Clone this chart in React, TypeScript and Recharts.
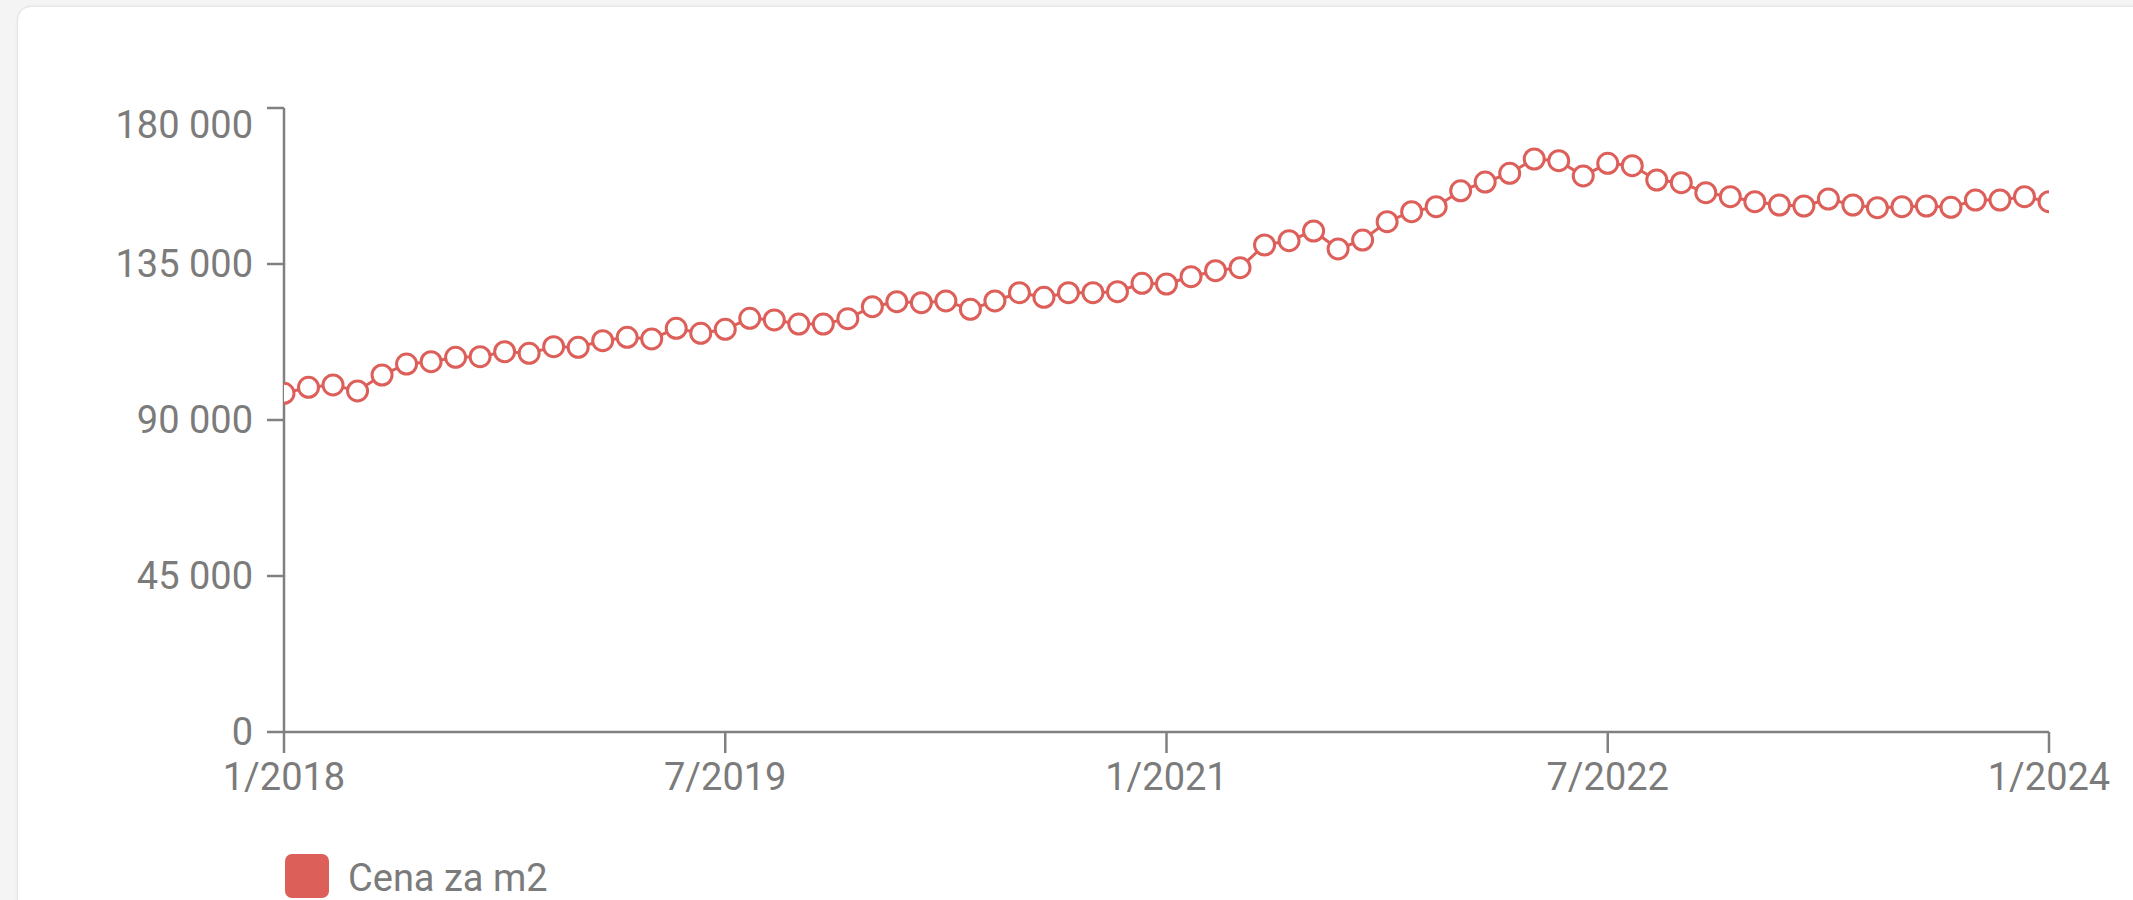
import React from "react";
import { LineChart, Line, XAxis, YAxis, Legend } from "recharts";

const prices: number[] = [
  97700, 99430, 100100, 98370, 102980, 106150, 106820, 108080, 108270, 109700,
  109230, 111150, 110970, 112870, 113850, 113370, 116450, 115010, 116160, 119340,
  118850, 117690, 117690, 119240, 122680, 124130, 123840, 124330, 121930, 124330,
  126730, 125390, 126730, 126730, 127010, 129430, 129230, 131340, 133070, 133940,
  140480, 141720, 144520, 139330, 141920, 147200, 150090, 151530, 156100, 158650,
  161160, 165290, 164800, 160400, 164040, 163360, 159230, 158460, 155570, 154420,
  152980, 152020, 151730, 153750, 152020, 151250, 151540, 151730, 151350, 153460,
  153460, 154420, 152980,
];

const xTickValues = [0, 18, 36, 54, 72];
const xTickLabels = ["1/2018", "7/2019", "1/2021", "7/2022", "1/2024"];
const yTicks = [0, 45000, 90000, 135000, 180000];
const seriesName = "Cena za m2";

const data = prices.map((v, i) => ({ idx: i, value: v }));

const RED = "#dd5f5a";
const GRAY = "#808080";
const TEXT = "#7b7b7b";
const FONT = "Roboto, 'Noto Sans', sans-serif";

const fmt = (v: number) => String(v).replace(/\B(?=(\d{3})+(?!\d))/g, " ");

const YTick = (props: any) => {
  const { x, y, payload } = props;
  const shift = payload.value === 180000 ? 17 : 0;
  return (
    <text
      x={x}
      y={y + shift}
      dy="0.355em"
      textAnchor="end"
      fill={TEXT}
      fontSize={38}
      fontFamily={FONT}
    >
      {fmt(payload.value)}
    </text>
  );
};

const LegendContent = () => (
  <div
    style={{
      height: 50,
      display: "flex",
      alignItems: "flex-start",
      fontFamily: FONT,
    }}
  >
    <div
      style={{
        width: 44,
        height: 44,
        marginTop: 4,
        borderRadius: 7,
        background: RED,
      }}
    />
    <div
      style={{
        marginLeft: 19,
        fontSize: 38,
        lineHeight: "44px",
        color: TEXT,
        marginTop: 6,
      }}
    >
      {seriesName}
    </div>
  </div>
);

export default function App() {
  return (
    <div
      style={{
        position: "fixed",
        left: 0,
        top: 0,
        width: 2133,
        height: 900,
        overflow: "hidden",
        background: "#f4f4f4",
      }}
    >
      <div
        style={{
          position: "absolute",
          left: 17,
          top: 6,
          width: 2300,
          height: 1100,
          background: "#ffffff",
          border: "1px solid #e4e4e4",
          borderRadius: 14,
          boxShadow: "0 0 3px rgba(0,0,0,0.06)",
        }}
      />
      <div style={{ position: "absolute", left: 0, top: 0 }}>
        <LineChart
          width={2133}
          height={900}
          data={data}
          margin={{ top: 108, right: 84, left: 0, bottom: 0 }}
        >
          <XAxis
            dataKey="idx"
            type="number"
            domain={[0, 72]}
            ticks={xTickValues}
            tickFormatter={(v: number) => xTickLabels[xTickValues.indexOf(v)]}
            interval={0}
            height={118}
            tickSize={21}
            tickMargin={10}
            stroke={GRAY}
            strokeWidth={2.5}
            tick={{ fill: TEXT, fontSize: 38, fontFamily: FONT }}
            allowDataOverflow
          />
          <YAxis
            width={284}
            domain={[0, 180000]}
            ticks={yTicks}
            interval={0}
            tickSize={17}
            tickMargin={14}
            stroke={GRAY}
            strokeWidth={2.5}
            tick={<YTick />}
          />
          <Legend
            verticalAlign="bottom"
            align="left"
            content={<LegendContent />}
            wrapperStyle={{ left: 285, bottom: 0 }}
          />
          <Line
            type="linear"
            dataKey="value"
            name={seriesName}
            stroke={RED}
            strokeWidth={3}
            dot={{ r: 10, fill: "#ffffff", stroke: RED, strokeWidth: 3 }}
            activeDot={false}
            isAnimationActive={false}
          />
        </LineChart>
      </div>
    </div>
  );
}
